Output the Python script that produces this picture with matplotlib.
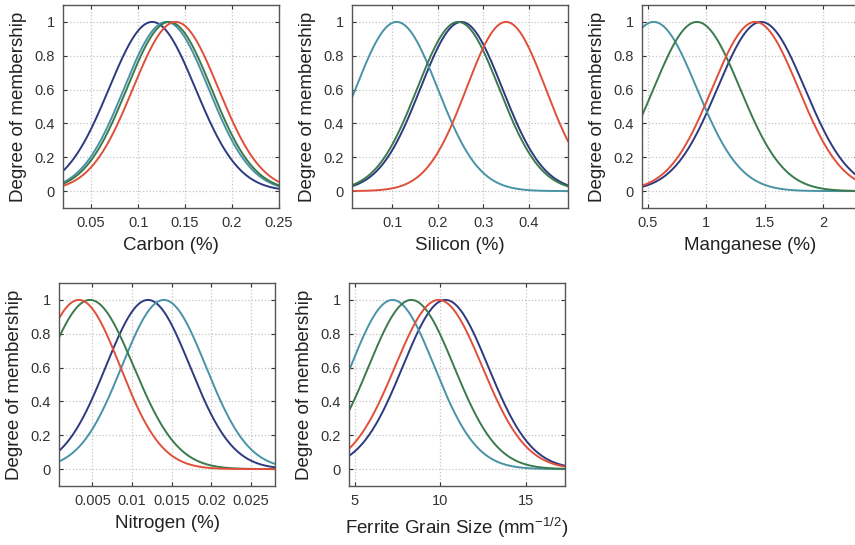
import numpy as np
import matplotlib
matplotlib.use('Agg')
import matplotlib.pyplot as plt
from matplotlib.ticker import FuncFormatter

plt.rcParams['font.family'] = ['Liberation Sans', 'DejaVu Sans']

# Gaussian membership functions: centres and widths
# order in every panel: navy, teal, green, red
carbon_centers = [0.115, 0.130, 0.133, 0.140]
carbon_sigmas = [0.046, 0.045, 0.045, 0.0455]

silicon_centers = [0.252, 0.110, 0.245, 0.350]
silicon_sigmas = [0.090, 0.090, 0.090, 0.087]

manganese_centers = [1.47, 0.55, 0.92, 1.42]
manganese_sigmas = [0.375, 0.37, 0.37, 0.37]

nitrogen_centers = [0.0120, 0.0140, 0.0047, 0.0033]
nitrogen_sigmas = [0.0053, 0.0053, 0.0055, 0.0052]

ferrite_centers = [10.3, 7.2, 8.3, 9.9]
ferrite_sigmas = [2.5, 2.45, 2.5, 2.55]

# ticks and axis ranges
carbon_ticks = [0.05, 0.1, 0.15, 0.2, 0.25]
silicon_ticks = [0.1, 0.2, 0.3, 0.4]
manganese_ticks = [0.5, 1, 1.5, 2]
nitrogen_ticks = [0.005, 0.01, 0.015, 0.02, 0.025]
ferrite_ticks = [5, 10, 15]
y_ticks = [0, 0.2, 0.4, 0.6, 0.8, 1]

colors = ['#2d3a80', '#4893a6', '#3b7a4c', '#e04f3a']

panels = [
    ('Carbon (%)', carbon_centers, carbon_sigmas, carbon_ticks, (0.02, 0.25), [63, 5]),
    ('Silicon (%)', silicon_centers, silicon_sigmas, silicon_ticks, (0.012, 0.486), [352, 5]),
    ('Manganese (%)', manganese_centers, manganese_sigmas, manganese_ticks, (0.45, 2.3), [642, 5]),
    ('Nitrogen (%)', nitrogen_centers, nitrogen_sigmas, nitrogen_ticks, (0.0008, 0.028), [59, 283]),
    ('Ferrite Grain Size (mm$^{\\mathregular{-1/2}}$)', ferrite_centers, ferrite_sigmas,
     ferrite_ticks, (4.65, 17.3), [349, 283]),
]

W, H = 855, 545
fig = plt.figure(figsize=(W / 100, H / 100), dpi=100)
fig.patch.set_facecolor('white')

ax_w, ax_h = 216, 203

for label, centers, sigmas, ticks, xlim, (px, py) in panels:
    ax = fig.add_axes([px / W, 1 - (py + ax_h) / H, ax_w / W, ax_h / H])
    x = np.linspace(xlim[0], xlim[1], 400)
    for c, s, col in zip(centers, sigmas, colors):
        ax.plot(x, np.exp(-(x - c) ** 2 / (2 * s ** 2)), color=col, lw=1.4)
    ax.set_xlim(xlim)
    ax.set_ylim(-0.1, 1.1)
    ax.set_xticks(ticks)
    ax.set_yticks(y_ticks)
    ax.xaxis.set_major_formatter(FuncFormatter(lambda v, p: '%g' % v))
    ax.yaxis.set_major_formatter(FuncFormatter(lambda v, p: '%g' % v))
    ax.grid(True, linestyle=':', color='#c4c4c4', lw=0.9)
    ax.tick_params(direction='in', top=True, right=True, length=3,
                   labelsize=10.5, colors='#333333', pad=6)
    for sp in ax.spines.values():
        sp.set_color('#555555')
        sp.set_linewidth(1.0)
    ax.set_xlabel(label, fontsize=13.5, color='#222222', labelpad=5)
    ax.set_ylabel('Degree of membership', fontsize=13.5, color='#222222', labelpad=5)

plt.savefig('out.png', dpi=100)
